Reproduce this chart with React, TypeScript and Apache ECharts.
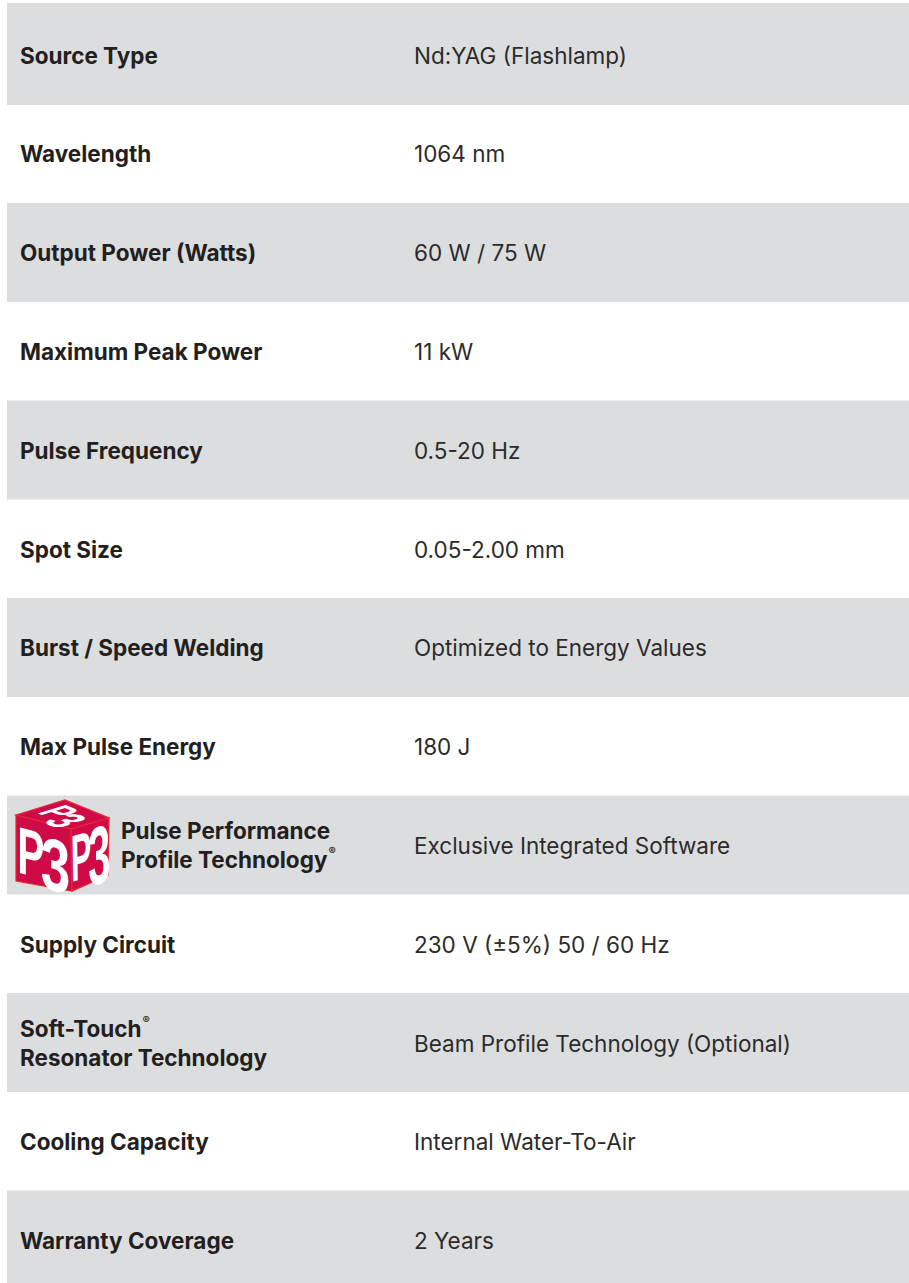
import React, { useEffect, useRef } from "react";
import * as echarts from "echarts";

const specLabels: string[] = [
  "Source Type",
  "Wavelength",
  "Output Power (Watts)",
  "Maximum Peak Power",
  "Pulse Frequency",
  "Spot Size",
  "Burst / Speed Welding",
  "Max Pulse Energy",
  "Pulse Performance\nProfile Technology®",
  "Supply Circuit",
  "Soft-Touch®\nResonator Technology",
  "Cooling Capacity",
  "Warranty Coverage",
];

const specValues: string[] = [
  "Nd:YAG (Flashlamp)",
  "1064 nm",
  "60 W / 75 W",
  "11 kW",
  "0.5-20 Hz",
  "0.05-2.00 mm",
  "Optimized to Energy Values",
  "180 J",
  "Exclusive Integrated Software",
  "230 V (±5%) 50 / 60 Hz",
  "Beam Profile Technology (Optional)",
  "Internal Water-To-Air",
  "2 Years",
];

const logoRowIndex = 8;

const W = 909;
const H = 1283;
const GRAY = "#dcdddf";
const LABEL_COLOR = "#231f20";
const VALUE_COLOR = "#2b2b2b";
const FONT = "Inter, 'Noto Sans', sans-serif";
const FS = 22.5;
const CRIMSON = "#cf0b47";
const EDGE = "#e8262f";

type P = [number, number];

function svd2(m00: number, m01: number, m10: number, m11: number) {
  const E = (m00 + m11) / 2;
  const F = (m00 - m11) / 2;
  const G = (m10 + m01) / 2;
  const Hh = (m10 - m01) / 2;
  const Q = Math.hypot(E, Hh);
  const R = Math.hypot(F, G);
  const sx = Q + R;
  const sy = Q - R;
  const a1 = Math.atan2(G, F);
  const a2 = Math.atan2(Hh, E);
  return { sx, sy, theta: (a2 - a1) / 2, phi: (a2 + a1) / 2 };
}

// group mapping a local 100x100 square onto the parallelogram o, uEnd, vEnd
function affineGroup(o: P, uEnd: P, vEnd: P, children: any[]) {
  const m00 = (uEnd[0] - o[0]) / 100;
  const m10 = (uEnd[1] - o[1]) / 100;
  const m01 = (vEnd[0] - o[0]) / 100;
  const m11 = (vEnd[1] - o[1]) / 100;
  const d = svd2(m00, m01, m10, m11);
  return {
    type: "group",
    x: o[0],
    y: o[1],
    rotation: -d.phi,
    scaleX: d.sx,
    scaleY: d.sy,
    children: [{ type: "group", rotation: -d.theta, children }],
  };
}

function glyph(ch: string, cx: number, cy: number, size: number, sx: number) {
  return {
    type: "text",
    x: cx,
    y: cy,
    scaleX: sx,
    style: {
      text: ch,
      font: `bold ${size}px 'Liberation Sans', Arial, sans-serif`,
      fill: "#ffffff",
      align: "center",
      verticalAlign: "middle",
    },
  };
}

function buildLogo(): any[] {
  const A: P = [16, 815];
  const B: P = [65, 800];
  const C: P = [109, 818];
  const D: P = [71, 829];
  const E: P = [16, 881];
  const F: P = [72, 891];
  const G: P = [108, 875];
  const face = (pts: P[]) => ({
    type: "polygon",
    shape: { points: pts },
    style: { fill: CRIMSON, stroke: EDGE, lineWidth: 1.2 },
  });
  return [
    face([A, B, C, D]),
    face([A, D, F, E]),
    face([D, C, G, F]),
    affineGroup(A, D, E, [glyph("P", 27, 52, 100, 0.74), glyph("3", 72, 61, 112, 0.86)]),
    affineGroup(D, C, F, [glyph("P", 25, 48, 106, 0.76), glyph("3", 73, 55, 132, 0.8)]),
    affineGroup(B, C, A, [glyph("P", 32, 42, 82, 0.72), glyph("3", 66, 58, 92, 0.78)]),
  ];
}

function rowTop(i: number) {
  return i === 0 ? 3 : 5.5 + 98.75 * i;
}
function rowCenter(i: number) {
  return 55 + 98.8 * i;
}

function richLabel(text: string) {
  return text
    .split("\n")
    .map((ln) => ln.split("®").map((s) => (s ? `{b|${s}}` : "")).join("{r|®}"))
    .join("\n");
}

const labelRich = {
  b: { fontFamily: FONT, fontWeight: 700, fontSize: FS, lineHeight: 29, fill: LABEL_COLOR },
  r: {
    fontFamily: FONT,
    fontWeight: 700,
    fontSize: 11,
    lineHeight: 22,
    fill: LABEL_COLOR,
    verticalAlign: "top",
    padding: [0, 0, 0, 1],
  },
};

function buildGraphics(): any[] {
  const els: any[] = [];
  for (let i = 0; i < specLabels.length; i++) {
    if (i % 2 === 0) {
      const top = rowTop(i);
      const bottom = i === 0 ? 105 : Math.min(H, top + 99);
      els.push({
        type: "rect",
        shape: { x: 7, y: top, width: W - 7, height: bottom - top },
        style: { fill: GRAY },
        silent: true,
      });
    }
  }
  for (let i = 0; i < specLabels.length; i++) {
    const cy = rowCenter(i);
    const lx = i === logoRowIndex ? 121 : 20;
    els.push({
      type: "text",
      x: lx,
      y: cy,
      style: {
        text: richLabel(specLabels[i]),
        rich: labelRich,
        align: "left",
        verticalAlign: "middle",
        fill: LABEL_COLOR,
        fontFamily: FONT,
        fontWeight: 700,
        fontSize: FS,
        lineHeight: 29,
      },
    });
    els.push({
      type: "text",
      x: 414,
      y: cy,
      style: {
        text: specValues[i],
        fill: VALUE_COLOR,
        fontFamily: FONT,
        fontWeight: 400,
        fontSize: FS,
        align: "left",
        verticalAlign: "middle",
      },
    });
  }
  els.push(...buildLogo());
  return els;
}

export default function App() {
  const ref = useRef<HTMLDivElement>(null);
  useEffect(() => {
    if (!ref.current) return;
    const chart = echarts.init(ref.current, null, { renderer: "svg" });
    chart.setOption({
      animation: false,
      backgroundColor: "#ffffff",
      graphic: { elements: buildGraphics() },
    });
    return () => chart.dispose();
  }, []);
  return (
    <div
      ref={ref}
      style={{ position: "fixed", left: 0, top: 0, width: W, height: H, background: "#fff" }}
    />
  );
}
